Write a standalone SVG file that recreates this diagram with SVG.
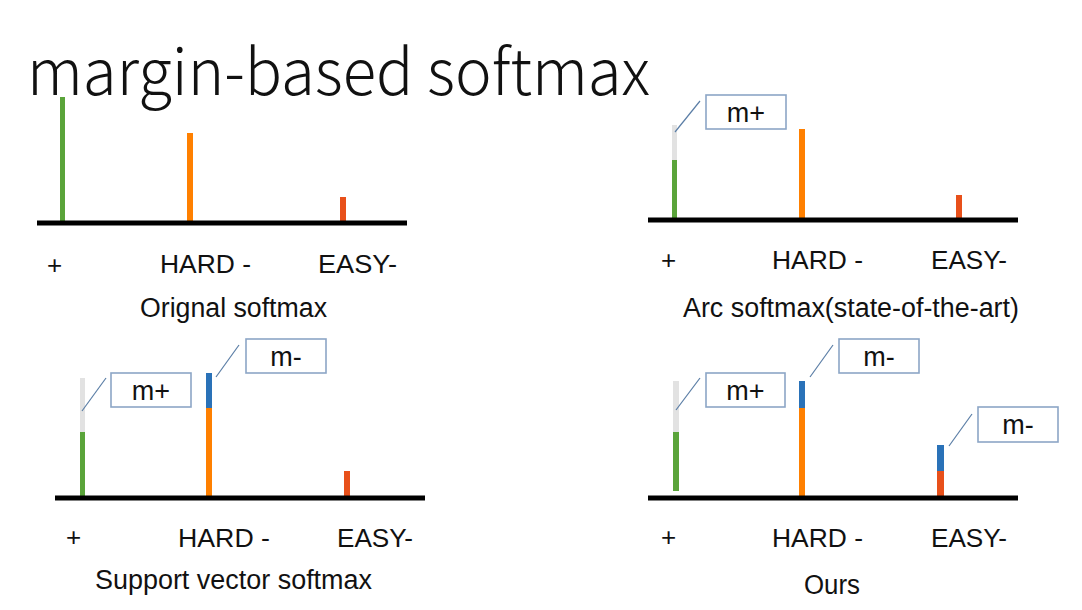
<svg xmlns="http://www.w3.org/2000/svg" width="1082" height="610" viewBox="0 0 1082 610">
<style>
.title{font-family:"Noto Sans CJK SC","Noto Sans",sans-serif;font-weight:200;font-size:64px;fill:#111}
.lbl{font-family:"Liberation Sans",Arial,sans-serif;font-size:26px;fill:#111}
.cap{font-family:"Liberation Sans",Arial,sans-serif;font-size:27px;fill:#111}
.axis{stroke:#000;stroke-width:5}
.box{fill:#fff;stroke:#8ca6c6;stroke-width:1.6}
.boxt{font-family:"Liberation Sans",Arial,sans-serif;font-size:27px;fill:#111;text-anchor:middle}
.lead{stroke:#5b7ea6;stroke-width:1.2;fill:none}
.g{fill:#5aa43a}.o{fill:#ff8000}.r{fill:#e8501a}.b{fill:#2a72b8}.gr{fill:#e2e2e2}
</style>
<rect width="1082" height="610" fill="#fff"/>
<text class="title" x="27" y="95" textLength="623" lengthAdjust="spacingAndGlyphs">margin-based softmax</text>

<g id="panel-original">
<rect class="g" x="60" y="97" width="5" height="126"/>
<rect class="o" x="187" y="133" width="6" height="90"/>
<rect class="r" x="340" y="197" width="6" height="26"/>
<line class="axis" x1="37" y1="223" x2="407" y2="223"/>
<text class="lbl" x="47" y="274">+</text>
<text class="lbl" x="160" y="273" textLength="91" lengthAdjust="spacingAndGlyphs">HARD -</text>
<text class="lbl" x="318" y="273" textLength="79" lengthAdjust="spacingAndGlyphs">EASY-</text>
<text class="cap" x="140" y="317" textLength="187" lengthAdjust="spacingAndGlyphs">Orignal softmax</text>
</g>

<g id="panel-arc">
<rect class="gr" x="672" y="125" width="5" height="35"/>
<rect class="g" x="672" y="160" width="5" height="60"/>
<rect class="o" x="799" y="129" width="6" height="91"/>
<rect class="r" x="956" y="195" width="6" height="25"/>
<line class="axis" x1="648" y1="220" x2="1018" y2="220"/>
<text class="lbl" x="661" y="269">+</text>
<text class="lbl" x="772" y="269" textLength="91" lengthAdjust="spacingAndGlyphs">HARD -</text>
<text class="lbl" x="931" y="269" textLength="76" lengthAdjust="spacingAndGlyphs">EASY-</text>
<text class="cap" x="683" y="317" textLength="336" lengthAdjust="spacingAndGlyphs">Arc softmax(state-of-the-art)</text>
</g>
<g id="box-arc-mplus">
<rect class="box" x="706" y="95" width="80" height="34"/>
<text class="boxt" x="746" y="122">m+</text>
</g>

<g id="panel-sv">
<rect class="gr" x="80" y="378" width="5" height="54"/>
<rect class="g" x="80" y="432" width="5" height="66"/>
<rect class="b" x="206" y="373" width="6" height="35"/>
<rect class="o" x="206" y="408" width="6" height="90"/>
<rect class="r" x="344" y="471" width="6" height="27"/>
<line class="axis" x1="55" y1="498" x2="425" y2="498"/>
<text class="lbl" x="66" y="546">+</text>
<text class="lbl" x="178" y="547" textLength="92" lengthAdjust="spacingAndGlyphs">HARD -</text>
<text class="lbl" x="337" y="547" textLength="76" lengthAdjust="spacingAndGlyphs">EASY-</text>
<text class="cap" x="95" y="589" textLength="277" lengthAdjust="spacingAndGlyphs">Support vector softmax</text>
</g>
<g id="box-sv-mplus">
<rect class="box" x="111" y="373" width="80" height="34"/>
<text class="boxt" x="151" y="400">m+</text>
</g>
<g id="box-sv-mminus">
<rect class="box" x="246" y="339" width="80" height="34"/>
<text class="boxt" x="286" y="366">m-</text>
</g>

<g id="panel-ours">
<rect class="gr" x="673" y="381" width="6" height="51"/>
<rect class="g" x="673" y="432" width="6" height="59"/>
<rect class="b" x="799" y="381" width="6" height="27"/>
<rect class="o" x="799" y="408" width="6" height="90"/>
<rect class="b" x="937" y="445" width="7" height="26"/>
<rect class="r" x="937" y="471" width="7" height="27"/>
<line class="axis" x1="648" y1="498" x2="1018" y2="498"/>
<text class="lbl" x="661" y="546">+</text>
<text class="lbl" x="772" y="547" textLength="91" lengthAdjust="spacingAndGlyphs">HARD -</text>
<text class="lbl" x="931" y="547" textLength="76" lengthAdjust="spacingAndGlyphs">EASY-</text>
<text class="cap" x="804" y="594" textLength="56" lengthAdjust="spacingAndGlyphs">Ours</text>
</g>
<g id="box-ours-mplus">
<rect class="box" x="706" y="373" width="79" height="34"/>
<text class="boxt" x="745.5" y="400">m+</text>
</g>
<g id="box-ours-mminus-hard">
<rect class="box" x="839" y="339" width="80" height="34"/>
<text class="boxt" x="879" y="366">m-</text>
</g>
<g id="box-ours-mminus-easy">
<rect class="box" x="978" y="407" width="80" height="35"/>
<text class="boxt" x="1018" y="434">m-</text>
</g>

<g id="connectors">
<line class="lead" x1="675" y1="132" x2="700" y2="101"/>
<line class="lead" x1="82" y1="411" x2="106" y2="378"/>
<line class="lead" x1="216" y1="377" x2="239" y2="345"/>
<line class="lead" x1="676" y1="410" x2="700" y2="378"/>
<line class="lead" x1="810" y1="377" x2="833" y2="345"/>
<line class="lead" x1="949" y1="446" x2="972" y2="414"/>
</g>
</svg>
